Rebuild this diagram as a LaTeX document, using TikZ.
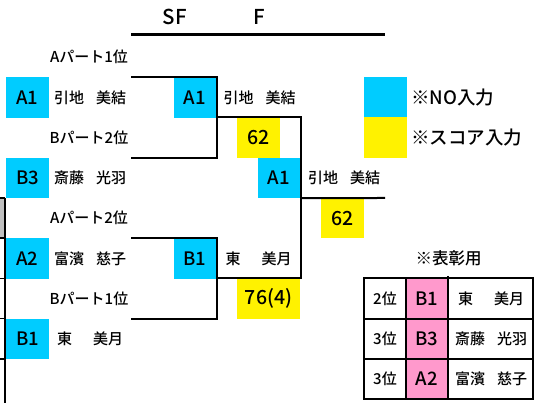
\documentclass[tikz,border=0pt]{standalone}
\usepackage{fontspec}
\setmainfont{Noto Sans CJK JP}[UprightFont = * Medium]
\definecolor{nocyan}{RGB}{0,204,255}
\definecolor{scoreyellow}{RGB}{255,242,0}
\definecolor{awardpink}{RGB}{255,153,204}
\definecolor{cellgray}{RGB}{192,192,192}
\newcommand{\fullname}[3][72pt]{\makebox[#1]{#2\hfill#3}}
\begin{document}
\begin{tikzpicture}[x=1pt,y=-1pt]
\tikzstyle{every node}+=[inner sep=0pt, outer sep=0pt]
\tikzstyle{nobox}=[fill=nocyan, minimum width=43pt, minimum height=40.25pt, font=\fontsize{18.5}{18.5}\selectfont]
\tikzstyle{scorebox}=[fill=scoreyellow, minimum width=43pt, minimum height=40.25pt, font=\fontsize{19.5}{19.5}\selectfont]
\tikzstyle{namelbl}=[font=\fontsize{15}{15}\selectfont]
\tikzstyle{bracket}=[black, line width=2pt]
\useasboundingbox (0,0) rectangle (544,403);
% header
\node [font=\fontsize{20.5}{20.5}\selectfont] (sfhead) at (175,17) {SF};
\node [font=\fontsize{20.5}{20.5}\selectfont] (fhead) at (259,17) {F};
\coordinate (headl) at (131,35);
\coordinate (headr) at (385,35);
\draw [line width=3pt] (headl) -- (headr);
% cut-off cells at the left edge
\fill [cellgray] (0,198) rectangle (4,238.25);
\draw [line width=1.5pt] (5,198) -- (5,403);
\foreach \y in {198,238.25,278.5,318.75,359}
  \draw [line width=1.5pt] (0,\y) -- (5,\y);
% first round
\node [namelbl] (lbl1) at (89,57.1) {Aパート1位};
\node [nobox] (p1) at (27.5,97.4) {A1};
\node [namelbl] (p1name) at (90,97.4) {\fullname{引地}{美結}};
\node [namelbl] (lbl2) at (89,137.6) {Bパート2位};
\node [nobox] (p2) at (27.5,177.9) {B3};
\node [namelbl] (p2name) at (90,177.9) {\fullname{斎藤}{光羽}};
\node [namelbl] (lbl3) at (89,218.1) {Aパート2位};
\node [nobox] (p3) at (27.5,258.4) {A2};
\node [namelbl] (p3name) at (90,258.4) {\fullname{富濱}{慈子}};
\node [namelbl] (lbl4) at (89,298.6) {Bパート1位};
\node [nobox] (p4) at (27.5,338.9) {B1};
\node [namelbl] (p4name) at (90,338.9) {\fullname[66pt]{東}{美月}};
% semi final
\coordinate (s1a) at (131,77.25);
\coordinate (s1b) at (131,157.75);
\coordinate (s2a) at (131,238.25);
\coordinate (s2b) at (131,318.75);
\node [nobox] (sf1) at (195,97.4) {A1};
\node [namelbl] (sf1name) at (259.5,97.4) {\fullname{引地}{美結}};
\node [scorebox] (sc1) at (258.5,137.6) {62};
\node [nobox] (sf2) at (195,258.4) {B1};
\node [namelbl] (sf2name) at (258.5,258.4) {\fullname[66pt]{東}{美月}};
\node [scorebox, minimum width=63pt] (sc2) at (268.5,298.6) {76(4)};
\draw [bracket] (s1a) -| (sf1.south east) |- (s1b);
\draw [bracket] (s2a) -| (sf2.south east) |- (s2b);
% final
\coordinate (f1) at (216,117.5);
\coordinate (f2) at (216,278.5);
\node [nobox] (fin) at (279,177.9) {A1};
\node [namelbl] (finname) at (344,177.9) {\fullname{引地}{美結}};
\node [scorebox] (sc3) at (342.5,218.1) {62};
\coordinate (win) at (385,198);
\draw [bracket] (f1) -| (fin.south east) |- (f2);
\draw [bracket] (fin.south east) -- (win);
% legend
\node [nobox] (keyno) at (385.5,97.4) {};
\node [scorebox] (keysc) at (385.5,137.6) {};
\node [anchor=west, font=\fontsize{18.5}{18.5}\selectfont] (keynotxt) at (411,97.4) {※NO入力};
\node [anchor=west, font=\fontsize{18.5}{18.5}\selectfont] (keysctxt) at (411,137.6) {※スコア入力};
% award table
\node [font=\fontsize{16.5}{16.5}\selectfont] (award) at (448.5,258.4) {※表彰用};
\fill [awardpink] (406,278.5) rectangle (448,399.25);
\draw [line width=2pt] (364,278.5) rectangle (533,399.25);
\draw [line width=2pt] (406,278.5) -- (406,399.25);
\draw [line width=2pt] (448,276) -- (448,399.25);
\draw [line width=2pt] (364,318.75) -- (533,318.75);
\draw [line width=2pt] (364,359) -- (533,359);
\node [namelbl] (rank1) at (385,298.6) {2位};
\node [font=\fontsize{18.5}{18.5}\selectfont] (code1) at (427,298.6) {B1};
\node [namelbl] (name1) at (491,298.6) {\fullname[66pt]{東}{美月}};
\node [namelbl] (rank2) at (385,338.9) {3位};
\node [font=\fontsize{18.5}{18.5}\selectfont] (code2) at (427,338.9) {B3};
\node [namelbl] (name2) at (491,338.9) {\fullname{斎藤}{光羽}};
\node [namelbl] (rank3) at (385,379.1) {3位};
\node [font=\fontsize{18.5}{18.5}\selectfont] (code3) at (427,379.1) {A2};
\node [namelbl] (name3) at (491,379.1) {\fullname{富濱}{慈子}};
\end{tikzpicture}
\end{document}
